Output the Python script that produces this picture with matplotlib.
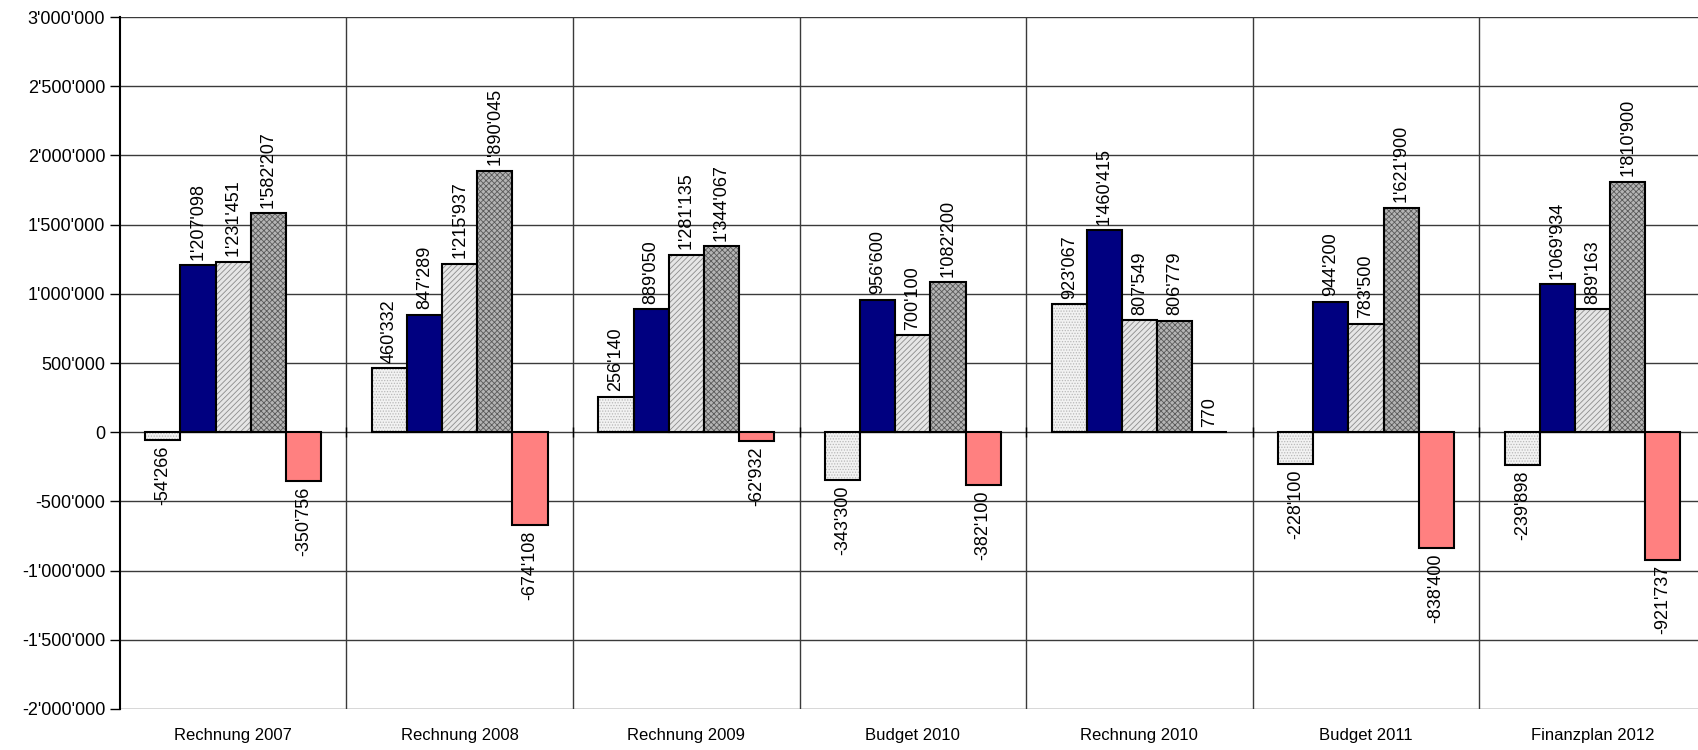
import numpy as np
import matplotlib
matplotlib.use("Agg")
import matplotlib.pyplot as plt
from matplotlib.ticker import FuncFormatter

# Daten
kategorien = ["Rechnung 2007", "Rechnung 2008", "Rechnung 2009", "Budget 2010",
              "Rechnung 2010", "Budget 2011", "Finanzplan 2012"]
serie1 = [-54266, 460332, 256140, -343300, 923067, -228100, -239898]
serie2 = [1207098, 847289, 889050, 956600, 1460415, 944200, 1069934]
serie3 = [1231451, 1215937, 1281135, 700100, 807549, 783500, 889163]
serie4 = [1582207, 1890045, 1344067, 1082200, 806779, 1621900, 1810900]
serie5 = [-350756, -674108, -62932, -382100, 770, -838400, -921737]
y_ticks = np.arange(-2000000, 3000001, 500000)

plt.rcParams["font.family"] = ["Liberation Sans", "DejaVu Sans"]
plt.rcParams["hatch.linewidth"] = 0.6

fig = plt.figure(figsize=(16.98, 7.5), dpi=100)
ax = fig.add_axes([0.0706, 0.0547, 0.934, 0.9226])

def fmt(v, pos=None):
    return f"{int(v):,}".replace(",", "'")

# Stil je Serie: Füllfarbe, Schraffur, Schraffurfarbe
stile = [
    ("#f2f2f2", "......", "#b8b8b8"),
    ("#000080", None, None),
    ("#e6e6e6", "//////", "#8c8c8c"),
    ("#b4b4b4", "xxxxxx", "#5a5a5a"),
    ("#ff8080", None, None),
]
serien = [serie1, serie2, serie3, serie4, serie5]

x = np.arange(len(kategorien))
w = 0.155
for i, (werte, (fc, hatch, hc)) in enumerate(zip(serien, stile)):
    pos = x + (i - 2) * w
    if hatch:
        ax.bar(pos, werte, w, color=fc, edgecolor=hc, hatch=hatch, linewidth=0, zorder=3)
        ax.bar(pos, werte, w, fill=False, edgecolor="black", linewidth=1.5, zorder=4)
    else:
        ax.bar(pos, werte, w, color=fc, edgecolor="black", linewidth=1.5, zorder=3)
    for px, v in zip(pos, werte):
        if v >= 0:
            ax.annotate(fmt(v), (px, v), xytext=(0, 4), textcoords="offset points",
                        rotation=90, ha="center", va="bottom", fontsize=13)
        else:
            ax.annotate(fmt(v), (px, v), xytext=(0, -4), textcoords="offset points",
                        rotation=90, ha="center", va="top", fontsize=13)

# Gitter
for yv in y_ticks:
    ax.axhline(yv, color="#3a3a3a", linewidth=1.0, zorder=1)
for b in x[:-1] + 0.5:
    ax.axvline(b, color="#3a3a3a", linewidth=1.0, zorder=1)
ax.plot(x[:-1] + 0.5, np.zeros(len(x) - 1), "|", color="black", ms=7, zorder=2)

ax.set_xlim(-0.5, len(kategorien) - 0.5)
ax.set_ylim(-2000000, 3000000)
ax.set_yticks(y_ticks)
ax.yaxis.set_major_formatter(FuncFormatter(fmt))
ax.set_xticks(x)
ax.set_xticklabels(kategorien)
ax.tick_params(axis="x", length=0, pad=14, labelsize=12)
ax.tick_params(axis="y", length=7, width=1, labelsize=13, pad=3.5)

for s in ["top", "right", "bottom"]:
    ax.spines[s].set_visible(False)
ax.spines["left"].set_linewidth(1.5)

fig.savefig("out.png", dpi=100)
